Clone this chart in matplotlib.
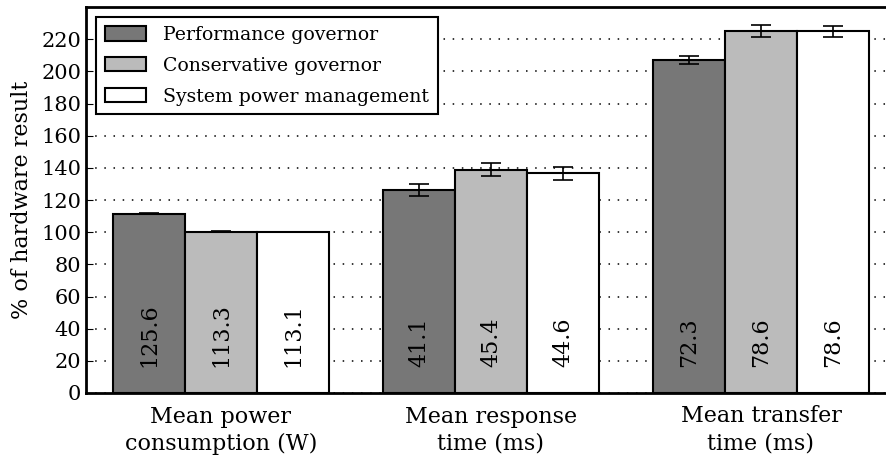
import numpy as np
import matplotlib
matplotlib.use("Agg")
import matplotlib.pyplot as plt

# =====================================================
# DATA
# =====================================================

categories = ["Mean power\nconsumption (W)", "Mean response\ntime (ms)", "Mean transfer\ntime (ms)"]
series = ["Performance governor", "Conservative governor", "System power management"]

perf_pct = [111.6, 126.0, 207.0]
cons_pct = [100.3, 138.9, 225.0]
sys_pct = [100.1, 136.6, 224.8]

perf_err = [0.5, 3.7, 2.3]
cons_err = [0.3, 3.8, 3.5]
sys_err = [0.2, 4.2, 3.5]

perf_abs = ["125.6", "41.1", "72.3"]
cons_abs = ["113.3", "45.4", "78.6"]
sys_abs = ["113.1", "44.6", "78.6"]

colors = ["#777777", "#bbbbbb", "#ffffff"]

# =====================================================
# PLOT
# =====================================================

plt.rcParams["font.family"] = "DejaVu Serif"

fig = plt.figure(figsize=(8.87, 4.58), dpi=100)
ax = fig.add_axes([86 / 887, 1 - 393 / 458, (896 - 86) / 887, (393 - 7) / 458])

ind = np.arange(len(categories))
width = 0.8 / 3

values = [perf_pct, cons_pct, sys_pct]
errors = [perf_err, cons_err, sys_err]
labels = [perf_abs, cons_abs, sys_abs]

for i in range(3):
    x = ind - 0.4 + i * width
    ax.bar(x, values[i], width, align="edge", color=colors[i], edgecolor="black",
           linewidth=1.5, label=series[i], zorder=2)
    ax.errorbar(x + width / 2, values[i], yerr=errors[i], fmt="none", ecolor="black",
                elinewidth=1.2, capsize=7.2, capthick=1.2, zorder=3)
    for xi, txt in zip(x, labels[i]):
        ax.text(xi + width / 2, 16, txt, rotation=90, ha="center", va="bottom",
                fontsize=16, zorder=4)

ax.set_xlim(-0.5, 2.5)
ax.set_ylim(0, 240)
ax.set_yticks(np.arange(0, 221, 20))
ax.set_xticks(ind)
ax.set_xticklabels(categories, fontsize=16, linespacing=1.3)
ax.tick_params(axis="x", length=0, pad=9)
ax.tick_params(axis="y", direction="in", length=5, labelsize=15, right=True)
ax.set_ylabel("% of hardware result", fontsize=16, labelpad=6)

ax.yaxis.grid(True, linestyle=(0, (1, 5)), color="black", linewidth=1.1, zorder=0)
ax.set_axisbelow(True)

for s in ax.spines.values():
    s.set_linewidth(2)

leg = ax.legend(loc="upper left", fontsize=13.6, fancybox=False, framealpha=1,
                edgecolor="black", borderpad=0.45, labelspacing=0.68,
                handlelength=2.2, handleheight=0.8, handletextpad=0.9,
                borderaxespad=0.55)
leg.get_frame().set_linewidth(1.5)

fig.savefig("out.png", dpi=100)
